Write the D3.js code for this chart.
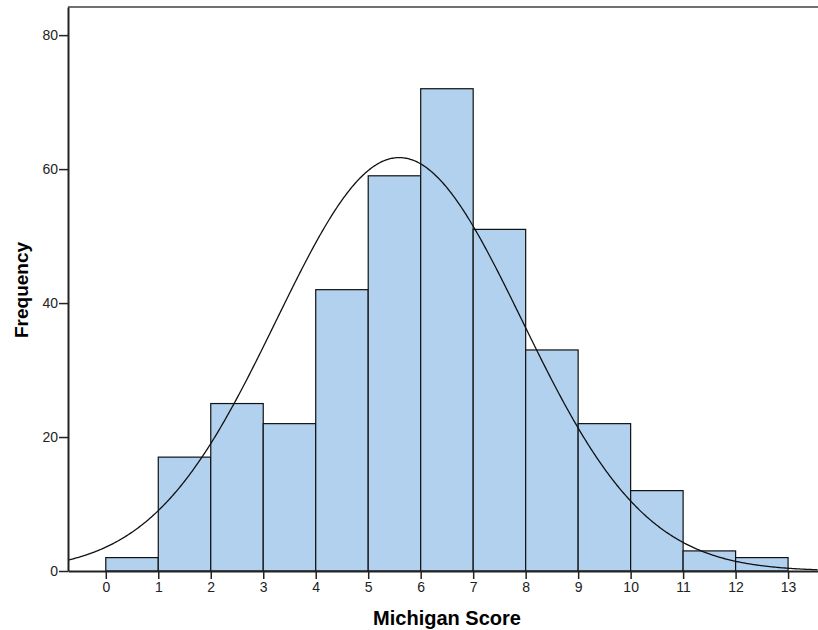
<!DOCTYPE html>
<html>
<head>
<meta charset="utf-8">
<script src="https://cdn.jsdelivr.net/npm/d3@7"></script>
<style>
  body { margin: 0; background: white; }
  svg { display: block; font-family: "Liberation Sans", Arial, sans-serif; }
</style>
</head>
<body>
<svg id="chart"></svg>
<script>
// Histogram data (bin start score -> count)
const binStarts = [0, 1, 2, 3, 4, 5, 6, 7, 8, 9, 10, 11, 12];
const counts = [2, 17, 25, 22, 42, 59, 72, 51, 33, 22, 12, 3, 2];
const xTicks = [0, 1, 2, 3, 4, 5, 6, 7, 8, 9, 10, 11, 12, 13];
const yTicks = [0, 20, 40, 60, 80];

// Normal curve parameters (as shown on the chart)
const curveMean = 5.59;
const curveSd = 2.34;
const totalN = 362;

function createHistogram() {
    const width = 818;
    const height = 630;
    const plot = { left: 68, right: 818, top: 7, bottom: 571 };

    const svg = d3.select('#chart')
                  .attr('width', width)
                  .attr('height', height);

    const xScale = d3.scaleLinear()
                     .domain([-0.72, 13.57])
                     .range([plot.left, plot.right]);

    const yScale = d3.scaleLinear()
                     .domain([0, 84.2])
                     .range([plot.bottom, plot.top]);

    // Bars
    svg.selectAll('rect.bar')
       .data(binStarts)
       .enter()
       .append('rect')
       .attr('class', 'bar')
       .attr('x', d => xScale(d))
       .attr('y', (d, i) => yScale(counts[i]))
       .attr('width', d => xScale(d + 1) - xScale(d))
       .attr('height', (d, i) => yScale(0) - yScale(counts[i]))
       .attr('fill', '#b1d1ef')
       .attr('stroke', '#111')
       .attr('stroke-width', 1.2);

    // Normal curve
    const [x0, x1] = xScale.domain();
    const curvePts = d3.range(x0, x1 + 0.01, 0.02).map(x => {
        const z = (x - curveMean) / curveSd;
        return [x, totalN / (curveSd * Math.sqrt(2 * Math.PI)) * Math.exp(-0.5 * z * z)];
    });
    const line = d3.line()
                   .x(d => xScale(d[0]))
                   .y(d => yScale(d[1]));
    svg.append('path')
       .datum(curvePts)
       .attr('fill', 'none')
       .attr('stroke', '#111')
       .attr('stroke-width', 1.3)
       .attr('d', line);

    // Top frame line
    svg.append('line')
       .attr('x1', plot.left).attr('x2', plot.right)
       .attr('y1', plot.top).attr('y2', plot.top)
       .attr('stroke', '#707070')
       .attr('stroke-width', 2);

    // Y axis
    const yAxis = svg.append('g')
       .attr('transform', `translate(${plot.left},0)`)
       .call(d3.axisLeft(yScale).tickValues(yTicks).tickSize(9).tickSizeOuter(0).tickPadding(1));
    yAxis.select('.domain').attr('stroke', '#222').attr('stroke-width', 2);
    yAxis.selectAll('.tick line').attr('stroke', '#222').attr('stroke-width', 1.5);
    yAxis.selectAll('text').style('font-size', '14px').attr('fill', '#222');

    // X axis
    const xAxis = svg.append('g')
       .attr('transform', `translate(0,${plot.bottom})`)
       .call(d3.axisBottom(xScale).tickValues(xTicks).tickSize(8).tickSizeOuter(0).tickPadding(3));
    xAxis.select('.domain').attr('stroke', '#222').attr('stroke-width', 2);
    xAxis.selectAll('.tick line').attr('stroke', '#222').attr('stroke-width', 1.5);
    xAxis.selectAll('text').style('font-size', '14px').attr('fill', '#222');

    // Axis titles
    svg.append('text')
       .attr('x', 447)
       .attr('y', 625)
       .attr('text-anchor', 'middle')
       .style('font-size', '20px')
       .style('font-weight', 'bold')
       .text('Michigan Score');

    svg.append('text')
       .attr('transform', 'translate(28,290) rotate(-90)')
       .attr('text-anchor', 'middle')
       .style('font-size', '19px')
       .style('font-weight', 'bold')
       .text('Frequency');
}

document.addEventListener('DOMContentLoaded', createHistogram);
</script>
</body>
</html>
